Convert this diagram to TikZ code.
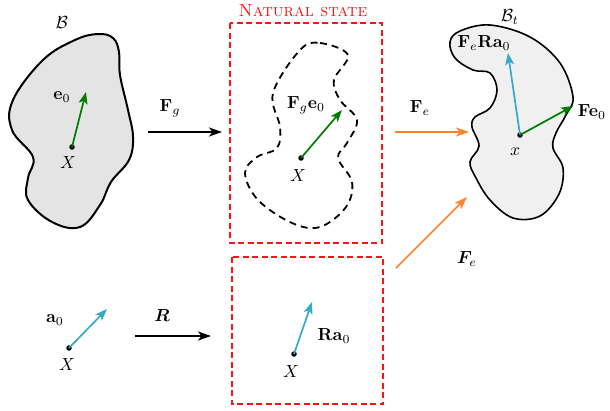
\documentclass[tikz,border=0pt]{standalone}
\usepackage{amsmath,amssymb,bm}
\usetikzlibrary{arrows.meta}
\definecolor{myred}{RGB}{250,20,20}
\definecolor{mygreen}{RGB}{0,125,0}
\definecolor{mycyan}{RGB}{55,170,200}
\definecolor{myorange}{RGB}{255,130,45}
\definecolor{blobA}{RGB}{228,228,228}
\definecolor{blobB}{RGB}{240,240,240}
\tikzset{
  body/.style={draw=black, line width=2pt},
  dotpt/.style={circle, fill=black, inner sep=0pt, minimum size=5.5pt},
  vec/.style={line width=1.7pt, -{Stealth[length=12pt,width=9pt,inset=3pt]}},
  maparrow/.style={line width=1.7pt, -{Stealth[length=13pt,width=9pt,inset=3.5pt]}},
  statebox/.style={draw=myred, line width=1.3pt, dash pattern=on 6pt off 3.5pt},
  lbl/.style={inner sep=1pt, scale=1.75},
}
\begin{document}
\begin{tikzpicture}[x=1pt,y=-1pt]
\useasboundingbox (0,0) rectangle (610,410);
% reference body
\draw[body, fill=blobA] plot[smooth cycle, tension=0.65] coordinates {
 (98,34) (113,38) (119,52) (120,75) (128,110) (133,137) (129,160) (111,182) (100,205) (80,227)
 (52,222) (28,200) (28,178) (33,157) (12,130) (13,100) (43,60) (75,40)};
\node[dotpt] (X1) at (72,147) {};
\coordinate (e0) at (86,92);
\draw[vec, draw=mygreen, fill=mygreen] (X1.center) -- (e0);
\node[lbl] (le0) at (62,97) {$\mathbf{e}_0$};
\node[lbl] (lX1) at (68,163) {$X$};
\node[lbl] (lB) at (62,23) {$\mathcal{B}$};
% Fg arrow
\coordinate (fg1) at (148,132);
\coordinate (fg2) at (222,132);
\draw[maparrow] (fg1) -- (fg2);
\node[lbl] (lFg) at (170,108) {$\mathbf{F}_g$};
% natural state box
\draw[statebox] (230,23) rectangle (382,243);
\node[lbl, text=myred] (lNS) at (303,11) {\textsc{Natural state}};
\draw[line width=1.8pt, dash pattern=on 7pt off 5pt] plot[smooth cycle, tension=0.6] coordinates {
 (300,50) (320,43) (348,55) (334,80) (340,100) (357,120) (347,143) (338,158) (352,182)
 (346,207) (320,227) (292,223) (258,200) (245,173) (257,157) (277,148) (280,127) (273,93)};
\node[dotpt] (X2) at (301,158) {};
\coordinate (fe0) at (342,110);
\draw[vec, draw=mygreen, fill=mygreen] (X2.center) -- (fe0);
\node[lbl] (lFge0) at (306,105) {$\mathbf{F}_g\mathbf{e}_0$};
\node[lbl] (lX2) at (298,176) {$X$};
% Fe arrows
\coordinate (fe1a) at (395,132);
\coordinate (fe1b) at (469,132);
\draw[maparrow, draw=myorange, fill=myorange] (fe1a) -- (fe1b);
\node[lbl] (lFe1) at (420,108) {$\mathbf{F}_e$};
\coordinate (fe2a) at (396,268);
\coordinate (fe2b) at (467,197);
\draw[maparrow, draw=myorange, fill=myorange] (fe2a) -- (fe2b);
\node[lbl] (lFe2) at (467,259) {$\bm{F}_e$};
% current body
\draw[body, line width=1.6pt, fill=blobB] plot[smooth cycle, tension=0.6] coordinates {
 (460,31) (490,25) (530,37) (560,63) (573,97) (566,115) (556,133) (553,148) (563,168)
 (559,194) (540,216) (513,218) (490,200) (476,178) (470,162) (479,146) (472,127) (475,117)
 (490,108) (497,90) (490,73) (473,70) (455,58) (450,42)};
\node[dotpt] (x3) at (520,135) {};
\coordinate (fra) at (508,53);
\coordinate (fe3) at (573,106);
\draw[vec, draw=mycyan, fill=mycyan] (x3.center) -- (fra);
\draw[vec, draw=mygreen, fill=mygreen] (x3.center) -- (fe3);
\node[lbl] (lFeRa) at (484,43) {$\mathbf{F}_e\mathbf{R}\mathbf{a}_0$};
\node[lbl] (lFe0) at (592,112) {$\mathbf{F}\mathbf{e}_0$};
\node[lbl] (lx3) at (515,152) {$x$};
\node[lbl] (lBt) at (510,17) {$\mathcal{B}_t$};
% bottom row
\node[dotpt] (X4) at (69,348) {};
\coordinate (a0) at (107,309);
\draw[vec, draw=mycyan, fill=mycyan] (X4.center) -- (a0);
\node[lbl] (la0) at (55,320) {$\mathbf{a}_0$};
\node[lbl] (lX4) at (67,365) {$X$};
\coordinate (r1) at (135,336);
\coordinate (r2) at (211,336);
\draw[maparrow] (r1) -- (r2);
\node[lbl] (lR) at (162,315) {$\bm{R}$};
\draw[statebox] (232,257) rectangle (383,404);
\node[dotpt] (X5) at (294,354) {};
\coordinate (ra0) at (312,302);
\draw[vec, draw=mycyan, fill=mycyan] (X5.center) -- (ra0);
\node[lbl] (lRa0) at (334,336) {$\mathbf{R}\mathbf{a}_0$};
\node[lbl] (lX5) at (291,372) {$X$};
\end{tikzpicture}
\end{document}
